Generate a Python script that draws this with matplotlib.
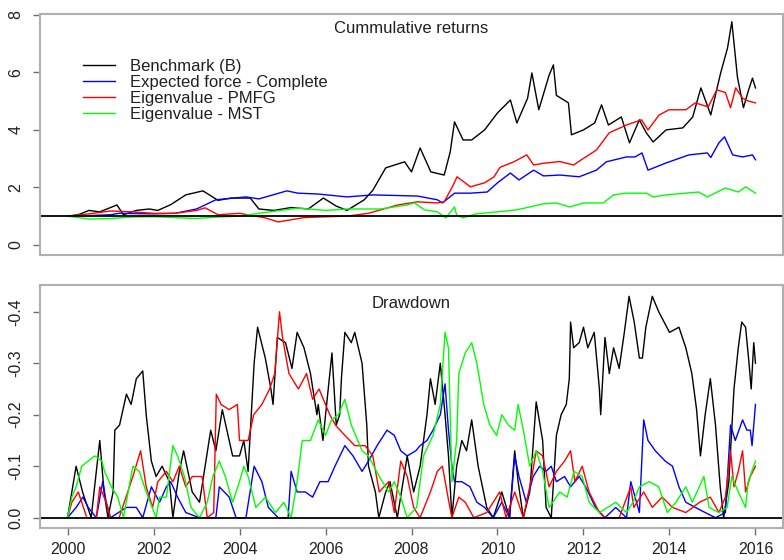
import matplotlib
matplotlib.use("Agg")
import matplotlib.pyplot as plt

plt.rcParams['font.family'] = ['Liberation Sans', 'DejaVu Sans']

# ---------------- cumulative returns ----------------
bench_t = [2000.0, 2000.25, 2000.5, 2000.75, 2001.0, 2001.15, 2001.3, 2001.6, 2001.9, 2002.1, 2002.4,
           2002.75, 2003.15, 2003.5, 2003.8, 2004.25, 2004.45, 2004.8, 2005.2, 2005.6, 2005.95, 2006.25,
           2006.5, 2006.9, 2007.1, 2007.4, 2007.84, 2008.0, 2008.2, 2008.45, 2008.76, 2008.9, 2009.0,
           2009.2, 2009.4, 2009.7, 2010.0, 2010.3, 2010.45, 2010.7, 2010.8, 2010.96, 2011.2, 2011.3,
           2011.37, 2011.65, 2011.72, 2012.0, 2012.26, 2012.42, 2012.58, 2012.88, 2013.07, 2013.3,
           2013.46, 2013.62, 2013.92, 2014.31, 2014.54, 2014.73, 2014.96, 2015.19, 2015.35, 2015.45,
           2015.58, 2015.72, 2015.84, 2015.93, 2016.0]
bench_v = [1.0, 1.05, 1.2, 1.15, 1.3, 1.39, 1.05, 1.2, 1.25, 1.2, 1.4,
           1.74, 1.88, 1.55, 1.63, 1.63, 1.25, 1.2, 1.3, 1.25, 1.63, 1.35,
           1.2, 1.57, 1.9, 2.68, 2.89, 2.54, 3.37, 2.54, 2.43, 3.23, 4.28,
           3.65, 3.65, 4.0, 4.59, 5.04, 4.24, 5.1, 5.98, 4.7, 5.9, 6.26,
           5.2, 4.94, 3.83, 4.0, 4.24, 4.87, 4.17, 4.45, 3.55, 4.35,
           3.9, 3.58, 4.0, 4.07, 4.45, 5.46, 4.52, 5.98, 6.85, 7.76,
           5.84, 4.77, 5.39, 5.8, 5.46]

ef_t = [2000.0, 2000.5, 2001.0, 2001.2, 2002.0, 2002.5, 2003.0, 2003.45, 2004.15, 2004.45, 2005.1,
        2005.36, 2005.83, 2006.5, 2007.1, 2008.14, 2008.6, 2008.72, 2009.0, 2009.37, 2009.76, 2010.0,
        2010.3, 2010.5, 2010.84, 2011.07, 2011.45, 2011.9, 2012.3, 2012.53, 2013.0, 2013.2, 2013.36,
        2013.5, 2013.92, 2014.45, 2014.88, 2014.96, 2015.15, 2015.28, 2015.47, 2015.7, 2015.93, 2016.0]
ef_v = [1.0, 1.02, 1.05, 1.1, 1.08, 1.1, 1.25, 1.57, 1.67, 1.6, 1.88,
        1.8, 1.77, 1.67, 1.74, 1.7, 1.57, 1.46, 1.8, 1.8, 1.84, 2.16,
        2.5, 2.26, 2.6, 2.4, 2.43, 2.37, 2.6, 2.89, 3.06, 3.06, 3.2,
        2.6, 2.85, 3.13, 3.2, 3.04, 3.55, 3.76, 3.13, 3.06, 3.13, 2.96]

pmfg_t = [2000.0, 2000.5, 2001.0, 2001.5, 2002.0, 2002.5, 2003.0, 2003.2, 2003.5, 2004.0, 2004.6,
          2004.9, 2005.5, 2006.0, 2006.5, 2007.0, 2007.68, 2008.14, 2008.6, 2008.76, 2008.95, 2009.06,
          2009.37, 2009.7, 2009.92, 2010.06, 2010.38, 2010.68, 2010.84, 2011.07, 2011.45, 2011.77,
          2011.95, 2012.3, 2012.6, 2013.0, 2013.35, 2013.5, 2013.76, 2013.99, 2014.38, 2014.6, 2014.9,
          2015.1, 2015.3, 2015.42, 2015.54, 2015.7, 2015.84, 2016.0]
pmfg_v = [1.0, 1.08, 1.18, 1.15, 1.1, 1.1, 1.2, 1.29, 1.05, 1.1, 0.94,
          0.8, 0.95, 0.98, 1.0, 1.1, 1.39, 1.5, 1.46, 1.5, 2.02, 2.37,
          2.02, 2.16, 2.37, 2.7, 2.89, 3.13, 2.78, 2.84, 2.9, 2.78,
          2.96, 3.3, 3.9, 4.17, 4.35, 4.0, 4.52, 4.7, 4.7, 4.94, 4.8,
          5.39, 5.3, 4.77, 5.46, 5.1, 5.0, 4.94]

mst_t = [2000.0, 2000.5, 2001.0, 2001.5, 2002.0, 2002.5, 2003.0, 2003.5, 2004.0, 2004.45, 2005.36,
         2006.0, 2006.5, 2007.28, 2007.9, 2008.07, 2008.3, 2008.6, 2008.8, 2009.0, 2009.05, 2009.2,
         2009.5, 2010.0, 2010.45, 2011.07, 2011.37, 2011.68, 2012.0, 2012.46, 2012.7, 2013.0, 2013.46,
         2013.62, 2013.92, 2014.38, 2014.68, 2014.88, 2015.3, 2015.6, 2015.77, 2016.0]
mst_v = [1.0, 0.9, 0.92, 0.97, 0.98, 0.95, 0.92, 0.97, 1.0, 1.1, 1.28,
         1.2, 1.25, 1.25, 1.39, 1.46, 1.22, 1.15, 0.94, 1.32, 1.04, 0.94,
         1.08, 1.15, 1.22, 1.43, 1.46, 1.32, 1.46, 1.46, 1.74, 1.8, 1.8,
         1.67, 1.74, 1.8, 1.84, 1.67, 1.98, 1.84, 2.02, 1.8]

# ---------------- drawdowns ----------------
dd_bench_t = [2000.0, 2000.2, 2000.35, 2000.55, 2000.75, 2000.85, 2000.94, 2001.06, 2001.1, 2001.21,
              2001.37, 2001.48, 2001.6, 2001.75, 2001.83, 2001.95, 2002.06, 2002.2, 2002.37, 2002.45,
              2002.6, 2002.7, 2002.9, 2003.07, 2003.2, 2003.33, 2003.45, 2003.6, 2003.84, 2004.0,
              2004.1, 2004.2, 2004.34, 2004.42, 2004.6, 2004.73, 2004.78, 2004.88, 2005.07, 2005.22,
              2005.34, 2005.5, 2005.65, 2005.8, 2005.83, 2005.94, 2006.15, 2006.25, 2006.33, 2006.37,
              2006.45, 2006.6, 2006.68, 2006.85, 2006.96, 2007.0, 2007.16, 2007.24, 2007.4, 2007.5,
              2007.67, 2007.9, 2008.05, 2008.2, 2008.36, 2008.44, 2008.55, 2008.67, 2008.78, 2008.86,
              2008.94, 2009.05, 2009.17, 2009.28, 2009.4, 2009.55, 2009.75, 2009.9, 2010.1, 2010.28,
              2010.4, 2010.48, 2010.6, 2010.75, 2010.9, 2011.05, 2011.13, 2011.25, 2011.37, 2011.48,
              2011.6, 2011.67, 2011.7, 2011.77, 2011.9, 2012.0, 2012.1, 2012.25, 2012.37, 2012.4,
              2012.5, 2012.6, 2012.7, 2012.83, 2012.95, 2013.06, 2013.18, 2013.3, 2013.37, 2013.45,
              2013.6, 2013.75, 2014.0, 2014.22, 2014.38, 2014.52, 2014.63, 2014.72, 2014.83, 2014.95,
              2015.07, 2015.18, 2015.26, 2015.38, 2015.5, 2015.6, 2015.68, 2015.77, 2015.85, 2015.9,
              2015.96, 2016.0]
dd_bench_v = [0.0, -0.1, -0.05, 0.0, -0.15, -0.05, 0.0, -0.05, -0.17, -0.18,
              -0.24, -0.22, -0.27, -0.285, -0.2, -0.11, -0.08, -0.1, -0.07, 0.0,
              -0.09, -0.13, -0.05, -0.03, -0.1, -0.17, -0.13, -0.21, -0.12, -0.12,
              -0.15, -0.09, -0.3, -0.37, -0.31, -0.25, -0.22, -0.35, -0.34, -0.29,
              -0.36, -0.33, -0.28, -0.2, -0.22, -0.15, -0.32, -0.18, -0.2, -0.27,
              -0.36, -0.34, -0.36, -0.3, -0.18, -0.1, -0.05, 0.0, -0.05, -0.07,
              0.0, -0.12, -0.05, -0.1, -0.2, -0.27, -0.22, -0.3, -0.2, -0.12,
              0.0, -0.1, -0.15, -0.13, -0.19, -0.1, -0.02, 0.0, -0.05, 0.0,
              -0.13, -0.07, 0.0, -0.05, -0.225, -0.15, -0.02, 0.0, -0.16, -0.2,
              -0.22, -0.27, -0.38, -0.33, -0.34, -0.37, -0.33, -0.36, -0.25, -0.2,
              -0.35, -0.28, -0.33, -0.29, -0.36, -0.43, -0.38, -0.31, -0.31, -0.37,
              -0.43, -0.4, -0.36, -0.37, -0.33, -0.28, -0.21, -0.12, -0.2, -0.27,
              -0.18, -0.06, 0.0, -0.07, -0.25, -0.33, -0.38, -0.37, -0.3, -0.25,
              -0.34, -0.3]

dd_ef_t = [2000.0, 2000.2, 2000.36, 2000.48, 2000.67, 2000.82, 2000.9, 2001.0, 2001.37, 2001.6,
           2001.75, 2001.95, 2002.14, 2002.3, 2002.4, 2002.56, 2002.75, 2003.07, 2003.45, 2003.53,
           2003.76, 2003.92, 2004.15, 2004.34, 2004.52, 2004.67, 2004.9, 2005.13, 2005.2, 2005.34,
           2005.53, 2005.7, 2005.87, 2006.06, 2006.22, 2006.45, 2006.64, 2006.85, 2007.0, 2007.2,
           2007.43, 2007.6, 2007.75, 2007.9, 2008.1, 2008.2, 2008.36, 2008.5, 2008.67, 2008.78,
           2008.86, 2008.94, 2009.0, 2009.17, 2009.36, 2009.52, 2009.7, 2009.9, 2010.1, 2010.28,
           2010.4, 2010.5, 2010.67, 2010.83, 2010.98, 2011.13, 2011.25, 2011.37, 2011.56, 2011.7,
           2011.9, 2012.05, 2012.28, 2012.5, 2012.75, 2013.0, 2013.1, 2013.3, 2013.4, 2013.5,
           2013.67, 2013.9, 2014.07, 2014.22, 2014.38, 2014.6, 2014.83, 2015.07, 2015.3, 2015.42,
           2015.53, 2015.7, 2015.8, 2015.88, 2015.92, 2016.0]
dd_ef_v = [0.0, -0.02, -0.04, -0.02, 0.0, -0.07, -0.03, 0.0, -0.02, -0.02,
           0.0, -0.06, -0.03, -0.06, -0.07, -0.04, -0.01, 0.0, 0.0, -0.06,
           -0.04, 0.0, 0.0, -0.1, -0.07, -0.02, 0.0, 0.0, -0.09, -0.05,
           -0.05, -0.04, -0.07, -0.07, -0.1, -0.14, -0.12, -0.09, -0.11, -0.14,
           -0.17, -0.16, -0.13, -0.12, -0.13, -0.14, -0.15, -0.17, -0.2, -0.26,
           -0.17, -0.1, -0.07, -0.07, -0.06, -0.03, -0.02, 0.0, -0.03, 0.0,
           -0.12, -0.08, -0.03, -0.08, -0.1, -0.09, -0.1, -0.07, -0.08, -0.06,
           -0.08, -0.06, -0.02, 0.0, -0.02, 0.0, -0.07, -0.01, -0.19, -0.15,
           -0.13, -0.11, -0.1, -0.06, -0.03, -0.02, -0.01, 0.0, -0.01, -0.18,
           -0.15, -0.19, -0.17, -0.17, -0.14, -0.22]

dd_pmfg_t = [2000.0, 2000.1, 2000.25, 2000.45, 2000.67, 2000.75, 2000.9, 2001.0, 2001.2, 2001.4,
             2001.52, 2001.7, 2001.83, 2001.98, 2002.1, 2002.3, 2002.45, 2002.6, 2002.75, 2002.9,
             2003.13, 2003.25, 2003.4, 2003.46, 2003.57, 2003.76, 2003.95, 2004.0, 2004.2, 2004.33,
             2004.52, 2004.7, 2004.82, 2004.93, 2005.0, 2005.15, 2005.37, 2005.56, 2005.7, 2005.85,
             2006.1, 2006.23, 2006.45, 2006.68, 2006.92, 2007.1, 2007.25, 2007.47, 2007.6, 2007.75,
             2007.9, 2008.05, 2008.2, 2008.44, 2008.6, 2008.72, 2008.87, 2008.94, 2009.1, 2009.25,
             2009.45, 2009.75, 2010.05, 2010.2, 2010.4, 2010.6, 2010.8, 2010.9, 2011.05, 2011.2,
             2011.37, 2011.56, 2011.7, 2011.8, 2011.97, 2012.13, 2012.37, 2012.5, 2012.83, 2013.1,
             2013.17, 2013.4, 2013.6, 2013.83, 2014.07, 2014.38, 2014.7, 2014.95, 2015.15, 2015.3,
             2015.42, 2015.5, 2015.6, 2015.7, 2015.77, 2015.88, 2016.0]
dd_pmfg_v = [0.0, -0.03, -0.05, 0.0, 0.0, -0.06, -0.03, 0.0, 0.0, -0.05,
             -0.08, -0.13, -0.06, -0.02, -0.07, -0.09, -0.07, -0.1, -0.06, -0.08,
             -0.08, 0.0, -0.01, -0.24, -0.22, -0.21, -0.22, -0.15, -0.15, -0.2,
             -0.22, -0.25, -0.28, -0.4, -0.35, -0.28, -0.25, -0.28, -0.23, -0.25,
             -0.2, -0.18, -0.16, -0.14, -0.14, -0.12, -0.05, -0.07, -0.01, -0.11,
             -0.08, -0.02, 0.0, -0.05, -0.09, -0.1, -0.03, 0.0, -0.04, -0.03,
             0.0, -0.01, -0.05, 0.0, -0.05, 0.0, -0.08, -0.13, -0.12, -0.06,
             -0.09, -0.11, -0.13, -0.07, -0.1, -0.05, -0.01, 0.0, 0.0, -0.06,
             -0.02, -0.05, -0.02, -0.04, -0.02, -0.01, -0.03, -0.04, -0.01, -0.04,
             -0.13, -0.06, -0.09, -0.13, -0.05, -0.08, -0.1]

dd_mst_t = [2000.0, 2000.1, 2000.2, 2000.33, 2000.48, 2000.63, 2000.8, 2000.86, 2001.02, 2001.17,
            2001.3, 2001.52, 2001.67, 2001.83, 2002.06, 2002.14, 2002.3, 2002.45, 2002.56, 2002.72,
            2002.87, 2003.07, 2003.25, 2003.38, 2003.53, 2003.67, 2003.84, 2004.0, 2004.1, 2004.2,
            2004.38, 2004.6, 2004.84, 2005.03, 2005.2, 2005.34, 2005.46, 2005.65, 2005.83, 2006.0,
            2006.14, 2006.3, 2006.45, 2006.6, 2006.85, 2007.0, 2007.25, 2007.47, 2007.6, 2007.75,
            2007.9, 2008.12, 2008.28, 2008.5, 2008.67, 2008.78, 2008.86, 2008.94, 2009.05, 2009.1,
            2009.25, 2009.4, 2009.52, 2009.68, 2009.82, 2009.98, 2010.1, 2010.25, 2010.4, 2010.48,
            2010.6, 2010.75, 2010.9, 2011.05, 2011.2, 2011.45, 2011.62, 2011.78, 2011.97, 2012.13,
            2012.37, 2012.75, 2013.0, 2013.15, 2013.3, 2013.53, 2013.75, 2013.95, 2014.15, 2014.38,
            2014.53, 2014.8, 2014.92, 2015.15, 2015.34, 2015.45, 2015.6, 2015.77, 2015.83, 2016.0]
dd_mst_v = [0.0, -0.04, -0.06, -0.1, -0.11, -0.12, -0.11, -0.09, -0.06, -0.04,
            0.0, -0.1, -0.09, -0.05, 0.0, -0.04, -0.04, -0.14, -0.12, -0.08,
            -0.02, 0.0, -0.03, -0.08, -0.11, -0.08, -0.03, -0.07, -0.1, -0.08,
            -0.02, -0.04, -0.01, -0.03, 0.0, -0.07, -0.15, -0.15, -0.19, -0.16,
            -0.19, -0.2, -0.23, -0.18, -0.13, -0.12, -0.08, -0.05, -0.07, -0.04,
            0.0, -0.02, -0.12, -0.16, -0.22, -0.36, -0.33, -0.07, -0.15, -0.28,
            -0.32, -0.34, -0.3, -0.22, -0.18, -0.16, -0.2, -0.18, -0.17, -0.22,
            -0.17, -0.1, -0.13, -0.09, -0.02, -0.05, -0.04, -0.09, -0.08, -0.03,
            -0.01, -0.03, -0.01, -0.03, -0.06, -0.07, -0.06, -0.01, -0.03, -0.06,
            -0.03, -0.08, -0.02, -0.01, -0.02, -0.08, -0.05, -0.02, -0.07, -0.11]

labels = ["Benchmark (B)", "Expected force - Complete", "Eigenvalue - PMFG", "Eigenvalue - MST"]
colors = ["black", "blue", "red", "#00ff00"]
year_ticks = [2000, 2002, 2004, 2006, 2008, 2010, 2012, 2014, 2016]

W, H = 784, 560
fig = plt.figure(figsize=(W / 100, H / 100), dpi=100)
ax1 = fig.add_axes([40 / W, 1 - 255 / H, (783 - 40) / W, (255 - 14) / H])
ax2 = fig.add_axes([40 / W, 1 - 528 / H, (783 - 40) / W, (528 - 285) / H])

lw = 1.0
series_top = [(bench_t, bench_v), (ef_t, ef_v), (pmfg_t, pmfg_v), (mst_t, mst_v)]
for (t, v), c, lab in zip(series_top, colors, labels):
    ax1.plot(t, v, color=c, lw=lw, label=lab)
ax1.axhline(1, color="black", lw=1.3)

series_dd = [(dd_bench_t, dd_bench_v), (dd_ef_t, dd_ef_v), (dd_pmfg_t, dd_pmfg_v), (dd_mst_t, dd_mst_v)]
for (t, v), c in zip(series_dd, colors):
    ax2.plot(t, v, color=c, lw=lw)
ax2.axhline(0, color="black", lw=1.3)

tick_fs = 11.5
for ax in (ax1, ax2):
    ax.set_xlim(1999.36, 2016.64)
    for s in ax.spines.values():
        s.set_color("#b0b0b0")
        s.set_linewidth(1.5)
    ax.tick_params(axis="both", direction="out", length=5, width=1.0, color="#707070",
                   labelsize=tick_fs, labelcolor="#202020")
    ax.set_facecolor("white")

ax1.set_ylim(-0.35, 8.03)
ax1.set_yticks([0, 2, 4, 6, 8])
ax1.set_xticks([])
ax1.tick_params(axis="y", pad=7)
for lbl in ax1.get_yticklabels():
    lbl.set_rotation(90)
    lbl.set_va("center")

ax2.set_ylim(0.02, -0.452)
ax2.set_yticks([0.0, -0.1, -0.2, -0.3, -0.4])
ax2.set_yticklabels(["0.0", "-0.1", "-0.2", "-0.3", "-0.4"])
ax2.set_xticks(year_ticks)
ax2.set_xticklabels([str(y) for y in year_ticks])
ax2.tick_params(axis="x", pad=5)
ax2.tick_params(axis="y", pad=7)
for lbl in ax2.get_yticklabels():
    lbl.set_rotation(90)
    lbl.set_va("center")

ax1.text(0.5, 0.94, "Cummulative returns", transform=ax1.transAxes, ha="center", va="center",
         fontsize=12, color="#202020")
ax2.text(0.5, 0.925, "Drawdown", transform=ax2.transAxes, ha="center", va="center",
         fontsize=12, color="#202020")

leg = ax1.legend(loc="upper left", bbox_to_anchor=(0.049, 0.84), frameon=False, fontsize=12,
                 handlelength=1.9, handletextpad=0.9, labelspacing=0.06, borderaxespad=0)
for t in leg.get_texts():
    t.set_color("#202020")

fig.savefig("out.png", dpi=100)
